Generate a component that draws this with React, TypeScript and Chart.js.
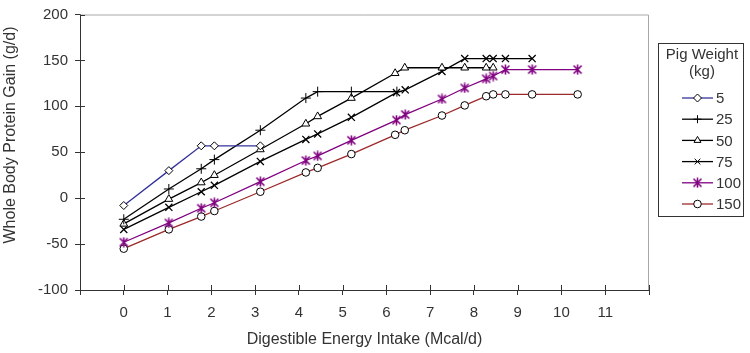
import React, { useEffect, useRef } from "react";
import { Chart, registerables } from "chart.js";
import { drawPoint } from "chart.js/helpers";

Chart.register(...registerables);

const xTickMin = -1;
const xTickMax = 12;
const yTickMin = -100;
const yTickMax = 200;

const xTitle = "Digestible Energy Intake (Mcal/d)";
const yTitle = "Whole Body Protein Gain (g/d)";
const legendTitle = ["Pig Weight", "(kg)"];
const seriesLabels = ["5", "25", "50", "75", "100", "150"];

const x5 = [0, 1.03, 1.77, 2.07, 3.12];
const y5 = [-8, 30, 57, 57, 57];

const x25 = [0, 1.03, 1.77, 2.07, 3.12, 4.16, 4.43, 5.2, 6.24];
const y25 = [-23, 10, 32, 42, 74, 109, 116, 116, 116];

const x50 = [0, 1.03, 1.77, 2.07, 3.12, 4.16, 4.43, 5.2, 6.2, 6.42, 7.27, 7.79, 8.28, 8.44];
const y50 = [-28, -1, 17, 25, 53, 81, 89, 109, 136, 142, 142, 142, 142, 142];

const x75 = [0, 1.03, 1.77, 2.07, 3.12, 4.16, 4.43, 5.2, 6.23, 6.43, 7.27, 7.79, 8.28, 8.44, 8.72, 9.33];
const y75 = [-34, -10, 7, 14, 40, 64, 70, 88, 115, 118, 138, 152, 152, 152, 152, 152];

const x100 = [0, 1.03, 1.77, 2.07, 3.12, 4.16, 4.43, 5.2, 6.23, 6.43, 7.27, 7.79, 8.28, 8.44, 8.72, 9.33, 10.37];
const y100 = [-48, -27, -11, -5, 18, 41, 46, 63, 85, 91, 108, 120, 130, 133, 140, 140, 140];

const x150 = [0, 1.03, 1.77, 2.07, 3.12, 4.16, 4.43, 5.2, 6.2, 6.42, 7.27, 7.79, 8.28, 8.44, 8.72, 9.33, 10.37];
const y150 = [-55, -34, -20, -14, 7, 28, 33, 48, 69, 74, 90, 101, 111, 113, 113, 113, 113];

const FONT = "'Liberation Sans', Arial, sans-serif";
const TEXT = "#333333";

function zip(xs: number[], ys: number[]) {
  return xs.map((x, i) => ({ x, y: ys[i] }));
}

function makeAsterisk(color: string): HTMLCanvasElement {
  const c = document.createElement("canvas");
  c.width = 11;
  c.height = 11;
  const g = c.getContext("2d")!;
  g.strokeStyle = color;
  g.lineWidth = 1.6;
  g.beginPath();
  g.moveTo(1.5, 1.5);
  g.lineTo(9.5, 9.5);
  g.moveTo(9.5, 1.5);
  g.lineTo(1.5, 9.5);
  g.moveTo(5.5, 0.5);
  g.lineTo(5.5, 10.5);
  g.stroke();
  return c;
}

export default function App() {
  const ref = useRef<HTMLCanvasElement | null>(null);

  useEffect(() => {
    if (!ref.current) return;
    const star = makeAsterisk("#800080");

    const common = {
      showLine: true,
      borderWidth: 1.3,
      pointBorderWidth: 1,
      pointBackgroundColor: "#ffffff",
      pointBorderColor: "#000000",
    };

    const datasets: any[] = [
      { ...common, label: seriesLabels[0], data: zip(x5, y5), borderColor: "#33339a", pointStyle: "rectRot", pointRadius: 4 },
      { ...common, label: seriesLabels[1], data: zip(x25, y25), borderColor: "#000000", pointStyle: "cross", pointRadius: 5 },
      { ...common, label: seriesLabels[2], data: zip(x50, y50), borderColor: "#000000", pointStyle: "triangle", pointRadius: 4.5 },
      { ...common, label: seriesLabels[3], data: zip(x75, y75), borderColor: "#000000", pointStyle: "crossRot", pointRadius: 5, pointBorderWidth: 1.3 },
      { ...common, label: seriesLabels[4], data: zip(x100, y100), borderColor: "#800080", pointStyle: star, pointRadius: 5 },
      { ...common, label: seriesLabels[5], data: zip(x150, y150), borderColor: "#9c2a2a", pointStyle: "circle", pointRadius: 3.8 },
    ];

    const framePlugin = {
      id: "frame",
      beforeDatasetsDraw(chart: any) {
        const { ctx, chartArea: a, scales } = chart;
        ctx.save();
        ctx.strokeStyle = "#a8a8a8";
        ctx.lineWidth = 1;
        ctx.beginPath();
        ctx.moveTo(a.left, a.top + 0.5);
        ctx.lineTo(a.right - 0.5, a.top + 0.5);
        ctx.lineTo(a.right - 0.5, a.bottom);
        ctx.stroke();
        // inner half of tick marks (cross style)
        ctx.strokeStyle = "#333333";
        ctx.beginPath();
        scales.x.ticks.forEach((t: any) => {
          const px = Math.round(scales.x.getPixelForValue(t.value)) + 0.5;
          ctx.moveTo(px, a.bottom);
          ctx.lineTo(px, a.bottom - 5);
        });
        scales.y.ticks.forEach((t: any) => {
          const py = Math.round(scales.y.getPixelForValue(t.value)) + 0.5;
          ctx.moveTo(a.left, py);
          ctx.lineTo(a.left + 5, py);
        });
        ctx.stroke();
        ctx.restore();
      },
      afterDraw(chart: any) {
        const { ctx } = chart;
        ctx.save();
        // y axis title (placed slightly above the plot centre, as in the reference)
        ctx.fillStyle = TEXT;
        ctx.font = `16px ${FONT}`;
        ctx.textAlign = "center";
        ctx.textBaseline = "middle";
        ctx.translate(11, 135);
        ctx.rotate(-Math.PI / 2);
        ctx.fillText(yTitle, 0, 0);
        ctx.restore();

        ctx.save();
        // legend box
        ctx.strokeStyle = "#333333";
        ctx.lineWidth = 1;
        ctx.strokeRect(658.5, 43.5, 85, 173);
        ctx.fillStyle = TEXT;
        ctx.font = `15px ${FONT}`;
        ctx.textAlign = "center";
        ctx.textBaseline = "middle";
        ctx.fillText(legendTitle[0], 702, 55);
        ctx.fillText(legendTitle[1], 702, 72);
        chart.data.datasets.forEach((ds: any, i: number) => {
          const y = 98 + i * 21.2;
          ctx.strokeStyle = ds.borderColor;
          ctx.lineWidth = 1.3;
          ctx.beginPath();
          ctx.moveTo(682, y);
          ctx.lineTo(713, y);
          ctx.stroke();
          ctx.fillStyle = "#ffffff";
          ctx.strokeStyle = "#000000";
          ctx.lineWidth = 1;
          drawPoint(ctx, { pointStyle: ds.pointStyle, rotation: 0, radius: Math.min(ds.pointRadius, 4), borderWidth: 1 }, 697.5, y);
          ctx.fillStyle = TEXT;
          ctx.font = `15px ${FONT}`;
          ctx.textAlign = "left";
          ctx.fillText(ds.label, 716, y + 1);
        });
        ctx.restore();
      },
    };

    const chart = new Chart(ref.current, {
      type: "scatter",
      data: { datasets },
      options: {
        responsive: false,
        animation: false,
        layout: { padding: { top: 7, right: 101, left: 0, bottom: 0 } },
        plugins: { legend: { display: false }, tooltip: { enabled: false } },
        elements: { line: { tension: 0 } },
        scales: {
          x: {
            type: "linear",
            min: xTickMin,
            max: xTickMax,
            afterFit: (s: any) => { s.height = 63; },
            ticks: {
              stepSize: 1,
              color: TEXT,
              font: { family: FONT, size: 15 },
              padding: 9,
              maxRotation: 0,
              autoSkip: false,
              callback: (v: any) => (v < 0 || v > 11 ? "" : String(v)),
            },
            grid: { drawOnChartArea: false, drawTicks: true, tickLength: 5, color: "#333333" },
            border: { display: true, color: "#333333", width: 1 },
            title: {
              display: true,
              text: xTitle,
              color: TEXT,
              font: { family: FONT, size: 16 },
              padding: { top: 0, bottom: 4 },
            },
          },
          y: {
            type: "linear",
            min: yTickMin,
            max: yTickMax,
            afterFit: (s: any) => { s.width = 80; },
            ticks: {
              stepSize: 50,
              color: TEXT,
              font: { family: FONT, size: 15, lineHeight: 1 },
              padding: 7,
            },
            grid: { drawOnChartArea: false, drawTicks: true, tickLength: 5, color: "#333333" },
            border: { display: true, color: "#333333", width: 1 },
            title: { display: false },
          },
        },
      },
      plugins: [framePlugin],
    } as any);

    return () => chart.destroy();
  }, []);

  return (
    <div style={{ position: "absolute", left: 0, top: 0, width: 750, height: 353, background: "#fff" }}>
      <canvas ref={ref} width={750} height={353} style={{ display: "block" }} />
    </div>
  );
}
